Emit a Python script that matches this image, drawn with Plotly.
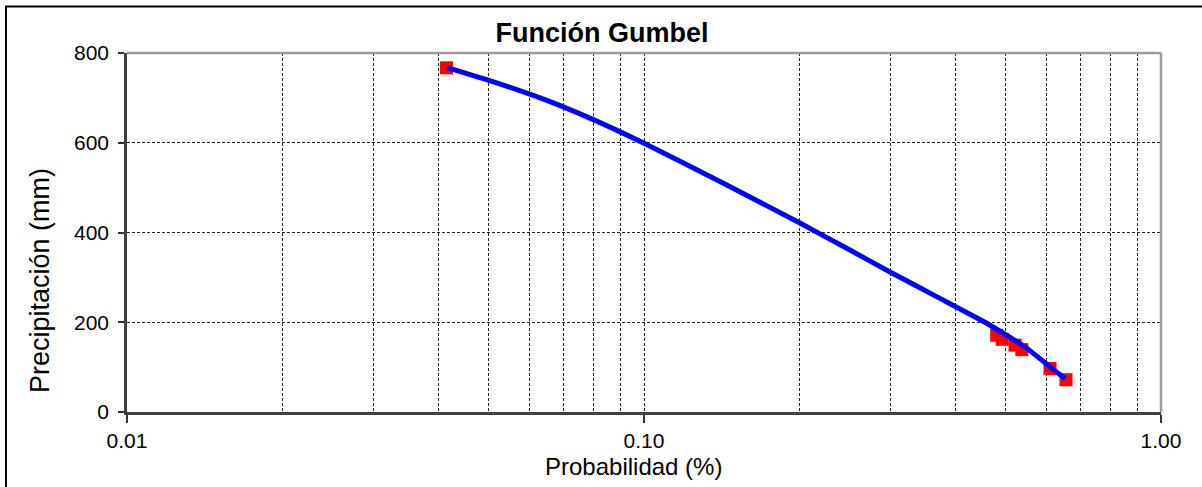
import plotly.graph_objects as go

# Observed data points (probability, precipitation mm)
obs_prob = [0.0415, 0.481, 0.493, 0.522, 0.538, 0.610, 0.655]
obs_prec = [767, 171, 162, 149, 139, 97, 72]

# Fitted Gumbel curve
fit_prob = [0.0415, 0.0517, 0.0643, 0.0800, 0.0996, 0.1412, 0.2003,
            0.2447, 0.2991, 0.3696, 0.4566, 0.5457, 0.6522]
fit_prec = [768, 734, 696, 651, 600, 512, 421,
            367, 312, 256, 200, 145, 74]

x_major = [0.01, 0.1, 1.0]
x_major_text = ["0.01", "0.10", "1.00"]
x_minor = [0.02, 0.03, 0.04, 0.05, 0.06, 0.07, 0.08, 0.09,
           0.2, 0.3, 0.4, 0.5, 0.6, 0.7, 0.8, 0.9]
y_ticks = [0, 200, 400, 600, 800]

FONT = "Liberation Sans, Arial, sans-serif"

fig = go.Figure()
fig.add_trace(go.Scatter(x=obs_prob, y=obs_prec, mode="markers",
                         marker=dict(symbol="square", size=13, color="#ff0000"),
                         showlegend=False))
fig.add_trace(go.Scatter(x=fit_prob, y=fit_prec, mode="lines",
                         line=dict(color="#0000ff", width=5, shape="spline", smoothing=0.4),
                         showlegend=False))

L, R, T, B = 127, 1161, 53.3, 411.7
W, H = 1202, 487
pw, ph = R - L, B - T

def px(x):
    return (x - L) / pw

def py(y):
    return (B - y) / ph

fig.update_layout(
    width=W, height=H,
    margin=dict(l=L, r=W - R, t=T, b=H - B, pad=0),
    paper_bgcolor="white", plot_bgcolor="white",
    font=dict(family=FONT, color="#000000", size=21),
    title=dict(text="<b>Función Gumbel</b>", x=602 / W, xanchor="center",
               y=1 - 33 / H, yanchor="middle", yref="container",
               font=dict(size=27, family=FONT, color="#000000")),
    xaxis=dict(type="log", range=[-2, 0], tickvals=x_major, ticktext=x_major_text,
               ticks="outside", ticklen=8, tickwidth=1.5, tickcolor="#333333",
               showline=True, linecolor="#404040", linewidth=2.5,
               showgrid=True, gridcolor="#222222", gridwidth=1, griddash="3px,2px",
               zeroline=False,
               minor=dict(tickvals=x_minor, showgrid=True, gridcolor="#222222",
                          gridwidth=1, griddash="3px,2px", ticks=""),
               tickfont=dict(size=21, family=FONT)),
    yaxis=dict(range=[0, 800], tickvals=y_ticks,
               ticks="outside", ticklen=6, tickwidth=1.5, tickcolor="#333333",
               ticklabelstandoff=5,
               showline=True, linecolor="#404040", linewidth=2.5,
               showgrid=True, gridcolor="#222222", gridwidth=1, griddash="3px,2px",
               zeroline=False, tickfont=dict(size=21, family=FONT)),
    annotations=[
        dict(text="Precipitación (mm)", xref="paper", yref="paper",
             x=px(40), y=py(281), xanchor="center", yanchor="middle",
             textangle=-90, showarrow=False, font=dict(size=27, family=FONT)),
        dict(text="Probabilidad (%)", xref="paper", yref="paper",
             x=px(633), y=py(466), xanchor="center", yanchor="middle",
             showarrow=False, font=dict(size=24, family=FONT)),
    ],
    shapes=[
        # top and right plot borders (gray)
        dict(type="line", xref="paper", yref="paper", x0=0, x1=1, y0=1, y1=1,
             line=dict(color="#9a9a9a", width=2.5), layer="above"),
        dict(type="line", xref="paper", yref="paper", x0=1, x1=1, y0=0, y1=1,
             line=dict(color="#9a9a9a", width=2.5), layer="above"),
        # outer chart border (black)
        dict(type="rect", xref="paper", yref="paper",
             x0=px(6), x1=px(1300), y0=py(600), y1=py(7),
             line=dict(color="#000000", width=2), fillcolor="rgba(0,0,0,0)",
             layer="above"),
    ],
)

fig.write_html("out.html", config={"displayModeBar": False},
               post_script="document.body.style.margin='0';document.body.style.padding='0';")
